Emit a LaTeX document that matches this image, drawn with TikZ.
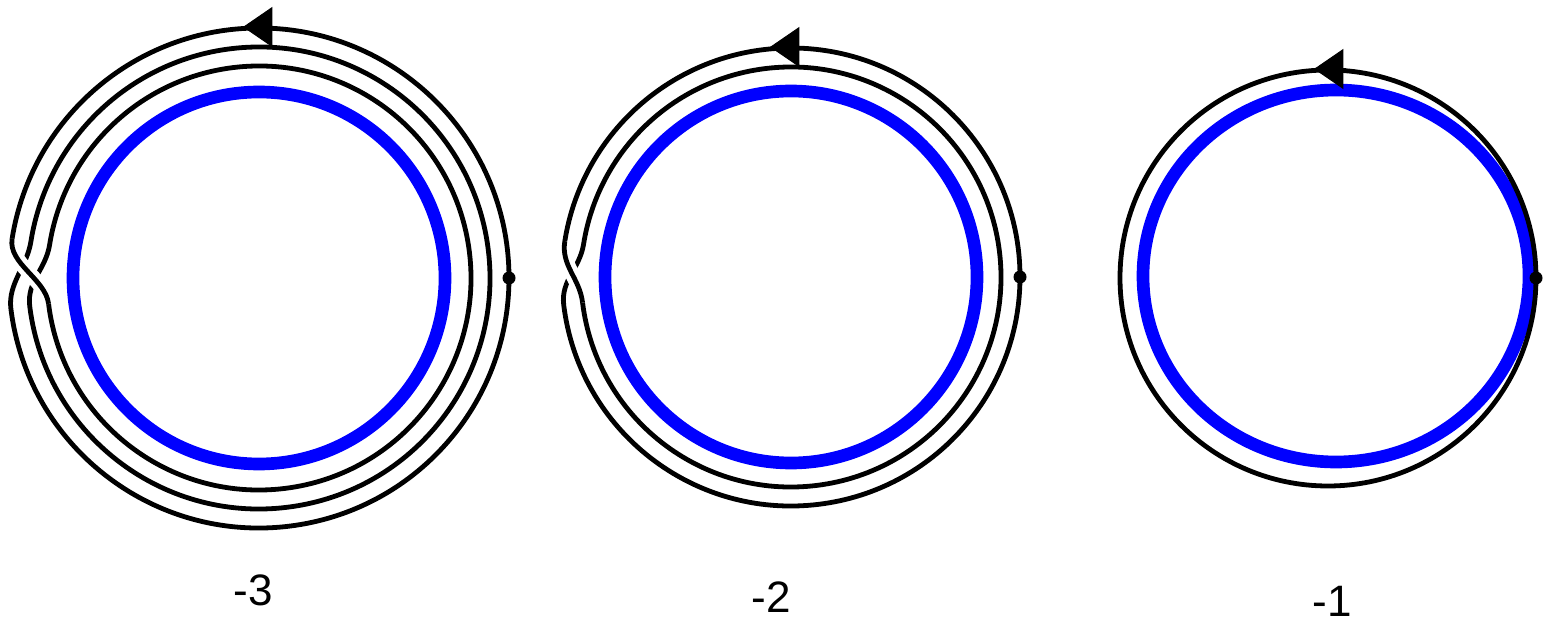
\documentclass[tikz,border=0pt]{standalone}
\usepackage{fontspec}
\setmainfont{Liberation Sans}
\usetikzlibrary{calc}
\usetikzlibrary{arrows.meta}

\begin{document}
\begin{tikzpicture}[x=0.75pt,y=0.75pt,yscale=-1,xscale=1,
  strand/.style={line width=3.6pt, color=black},
  ring/.style={line width=9.5pt, color={rgb, 255:red, 0; green, 0; blue, 255}},
  overpass/.style={strand, preaction={draw=white, line width=11pt}},
  flowtip/.style={line width=0.75pt, -{Triangle[length=22pt,width=30pt]}},
  numtext/.style={font=\fontsize{33}{40}\selectfont, inner sep=0.75pt}]
\useasboundingbox (0,0) rectangle (1545,623);

\coordinate (c1) at (259,278);
\coordinate (c2) at (791,277);
\coordinate (c3) at (1328,278);

%Shape: Circle (blue, -3)
\draw [ring] (c1) circle [radius=186];
%Curve Lines (three turns)
\draw [strand] ($(c1)+(0:250)$) arc [start angle=0, end angle=-171, radius=250]
  .. controls +(-261:25) and +(-97:25) .. ($(c1)+(-187:212)$)
  arc [start angle=-187, end angle=-531, radius=212]
  .. controls +(-261:25) and +(-97:25) .. ($(c1)+(-187:231)$)
  arc [start angle=-187, end angle=-531, radius=231]
  .. controls +(-261:25) and +(-97:25) .. ($(c1)+(-187:250)$)
  arc [start angle=-187, end angle=-360, radius=250];
%Curve Lines (over strand)
\draw [overpass] ($(c1)+(-171:250)$) .. controls +(-261:25) and +(-97:25) .. ($(c1)+(-187:212)$);
\fill ($(c1)+(0:250)$) circle [radius=6.5];
\draw [flowtip] (274,27) -- (243,27);

%Shape: Circle (blue, -2)
\draw [ring] (c2) circle [radius=186];
%Curve Lines (two turns)
\draw [strand] ($(c2)+(0:229)$) arc [start angle=0, end angle=-171, radius=229]
  .. controls +(-261:25) and +(-97:25) .. ($(c2)+(-187:210)$)
  arc [start angle=-187, end angle=-531, radius=210]
  .. controls +(-261:25) and +(-97:25) .. ($(c2)+(-187:229)$)
  arc [start angle=-187, end angle=-360, radius=229];
%Curve Lines (over strand)
\draw [overpass] ($(c2)+(-171:229)$) .. controls +(-261:25) and +(-97:25) .. ($(c2)+(-187:210)$);
\fill ($(c2)+(0:229)$) circle [radius=6.5];
\draw [flowtip] (802,47) -- (770,47);

%Shape: Ellipse (blue, -1)
\draw [ring] (1336,276) ellipse [x radius=193, y radius=186];
%Shape: Circle (one turn)
\draw [strand] (c3) circle [radius=208];
\fill ($(c3)+(0:208)$) circle [radius=6.5];
\draw [flowtip] (1346,69) -- (1314,69);

% Text Node
\node [numtext] (n3) at (253,590) {-3};
% Text Node
\node [numtext] (n2) at (771,597) {-2};
% Text Node
\node [numtext] (n1) at (1332,601) {-1};

\end{tikzpicture}
\end{document}
